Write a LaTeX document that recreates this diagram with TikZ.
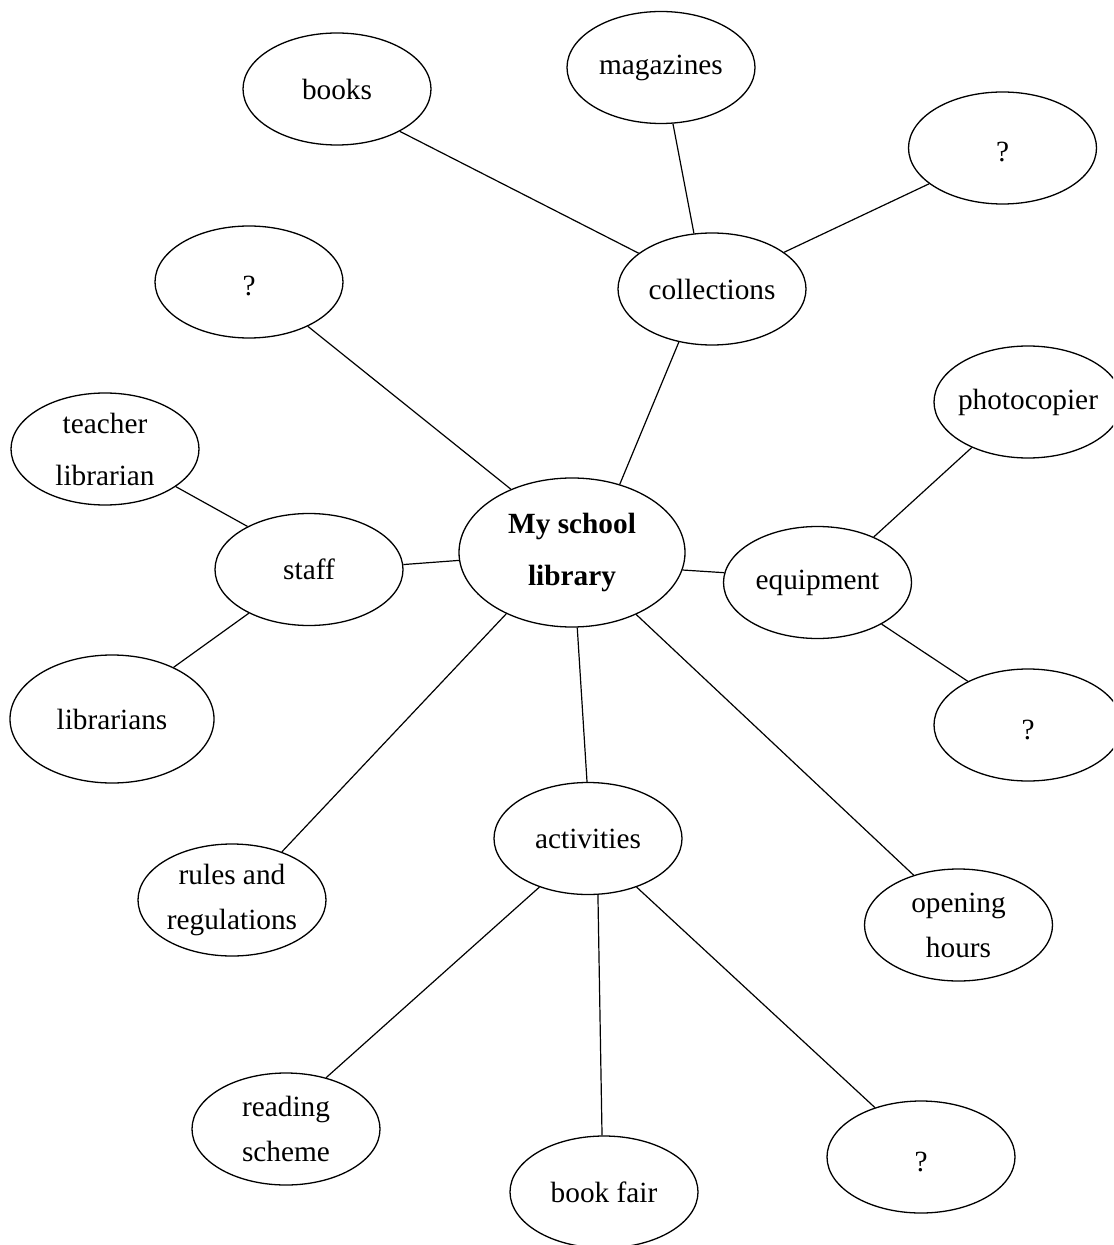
\documentclass[tikz,border=0pt]{standalone}
\usepackage{fontspec}
\setmainfont{Liberation Serif}
\usetikzlibrary{shapes.geometric}
\tikzset{
  bubble/.style={draw, ellipse, line width=0.65pt, inner xsep=-12pt, inner ysep=0pt,
    minimum width=94pt, minimum height=56pt, align=center,
    font=\fontsize{14.65}{22.5}\selectfont},
  widegap/.style={font=\fontsize{14.65}{26}\selectfont},
  qmark/.style={text height=14pt, text depth=0pt},
  link/.style={line width=0.6pt}
}
\begin{document}
\begin{tikzpicture}[x=0.5pt,y=-0.5pt]
\useasboundingbox (0,0) rectangle (1113,1245);
\clip (0,0) rectangle (1113,1245);
% nodes
\node[bubble] (books) at (337,89) {books};
\node[bubble] (magazines) at (661,67.5) {magazines};
\node[bubble,qmark] (qtr) at (1002.5,148) {?};
\node[bubble] (coll) at (712,289) {collections};
\node[bubble,qmark] (ql) at (249,282) {?};
\node[bubble,widegap] (teacher) at (105,449) {teacher\\librarian};
\node[bubble] (staff) at (309,569.5) {staff};
\node[bubble,widegap,minimum width=113pt,minimum height=74.5pt] (main) at (572,552.5) {\bfseries My school\\\bfseries library};
\node[bubble] (photo) at (1028,402) {photocopier};
\node[bubble] (equip) at (817.5,582.5) {equipment};
\node[bubble,minimum width=102pt,minimum height=64pt] (librarians) at (112,719) {librarians};
\node[bubble,qmark] (qr) at (1028,725) {?};
\node[bubble] (activities) at (588,838.5) {activities};
\node[bubble] (rules) at (232,900) {rules and\\regulations};
\node[bubble] (opening) at (958.5,925) {opening\\hours};
\node[bubble] (reading) at (286,1129) {reading\\scheme};
\node[bubble] (bookfair) at (604,1192) {book fair};
\node[bubble,qmark] (qbr) at (921,1157) {?};
% connectors
\draw[link] (books.-34.8) -- (coll.154.2);
\draw[link] (magazines.-78.8) -- (coll.108.7);
\draw[link] (coll.27.5) -- (qtr.206.7);
\draw[link] (coll.238.7) -- (main.55.4);
\draw[link] (ql.-37.8) -- (main.134);
\draw[link] (teacher.-28.5) -- (staff.145.6);
\draw[link] (staff.3.3) -- (main.184.7);
\draw[link] (staff.216) -- (librarians.40.9);
\draw[link] (main.-9) -- (equip.174.2);
\draw[link] (equip.39.3) -- (photo.219.9);
\draw[link] (equip.-33.6) -- (qr.144.4);
\draw[link] (main.-86.9) -- (activities.91);
\draw[link] (main.223.9) -- (rules.44.4);
\draw[link] (main.-44.3) -- (opening.132.9);
\draw[link] (activities.225.9) -- (reading.52.6);
\draw[link] (activities.-80.6) -- (bookfair.92.4);
\draw[link] (activities.-45.3) -- (qbr.133.8);
\end{tikzpicture}
\end{document}
